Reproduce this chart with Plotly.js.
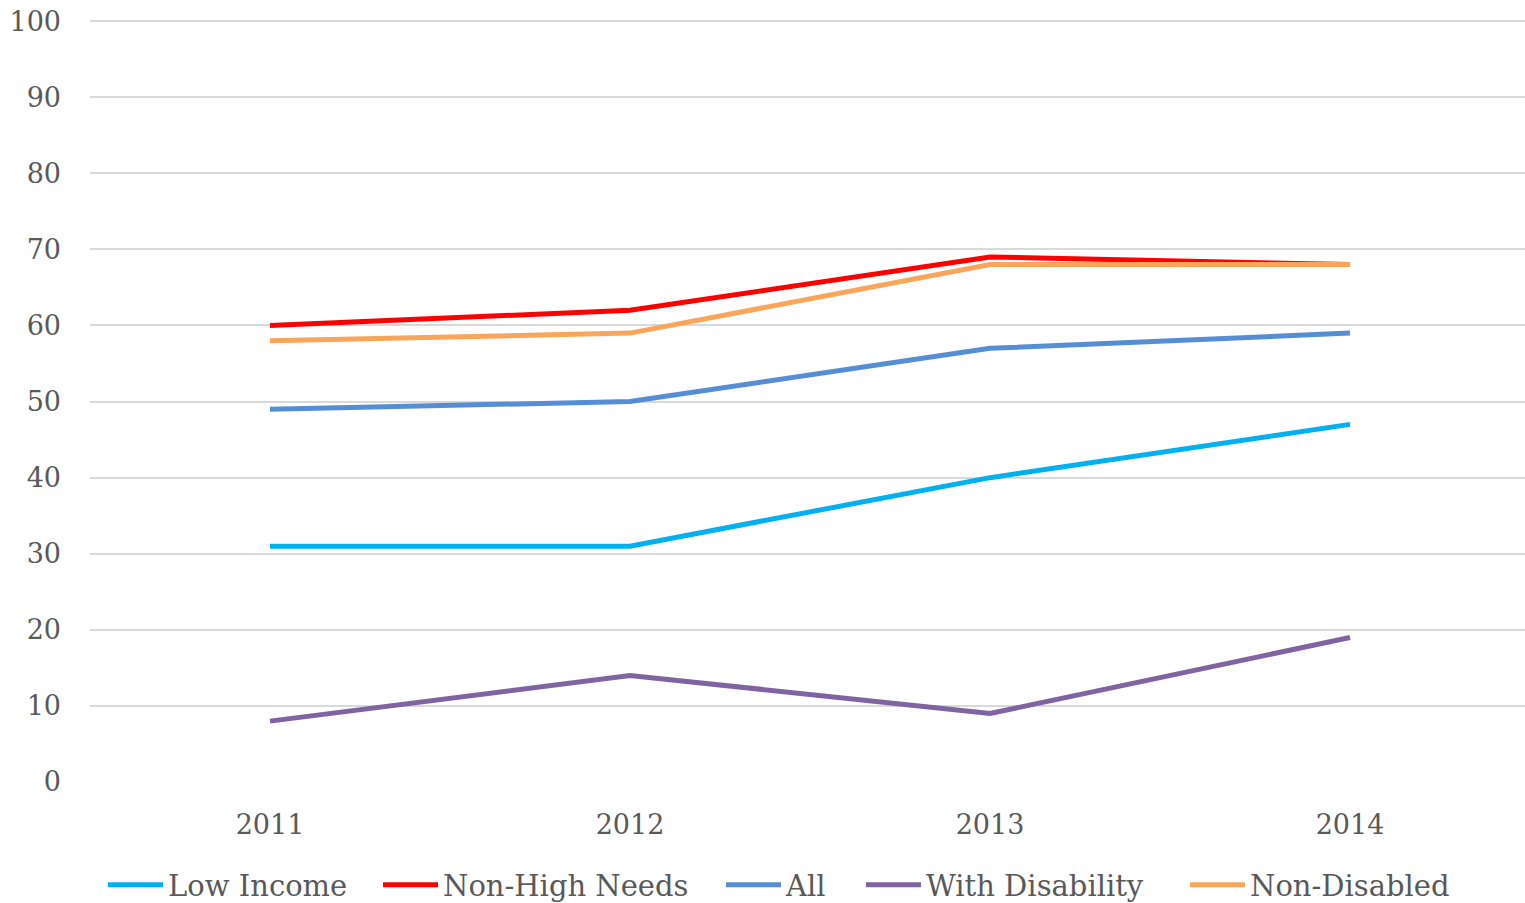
<!DOCTYPE html>
<html>
<head>
<meta charset="utf-8">
<script src="https://cdn.plot.ly/plotly-3.0.1.min.js"></script>
<style>html,body{margin:0;padding:0;background:#fff;}#chart{width:1525px;height:903px;}</style>
</head>
<body>
<div id="chart"></div>
<script>
const years = ["2011", "2012", "2013", "2014"];
const seriesNames = ["Low Income", "Non-High Needs", "All", "With Disability", "Non-Disabled"];
const lowIncome = [31, 31, 40, 47];
const nonHighNeeds = [60, 62, 69, 68];
const allStudents = [49, 50, 57, 59];
const withDisability = [8, 14, 9, 19];
const nonDisabled = [58, 59, 68, 68];
const colors = ["#00B0F0", "#FF0000", "#558ED5", "#8064A2", "#F9A65A"];
const yTicks = [0, 10, 20, 30, 40, 50, 60, 70, 80, 90, 100];

// legend entry left positions (px in the 1525-wide page)
const legendLeft = [103, 378, 721, 861, 1185];

const values = [lowIncome, nonHighNeeds, allStudents, withDisability, nonDisabled];
const legendIds = ["legend", "legend2", "legend3", "legend4", "legend5"];
const traces = values.map((v, i) => ({
  type: "scatter",
  mode: "lines",
  x: years,
  y: v,
  name: seriesNames[i],
  legend: legendIds[i],
  line: {color: colors[i], width: 5},
  hoverinfo: "x+y+name"
}));

const font = {family: "DejaVu Serif, serif", size: 27, color: "#595959"};
const legendFont = {family: "DejaVu Serif, serif", size: 29, color: "#595959"};
const layout = {
  width: 1525,
  height: 903,
  margin: {l: 90, r: 0, t: 20, b: 121},
  paper_bgcolor: "#fff",
  plot_bgcolor: "#fff",
  font: font,
  showlegend: true,
  xaxis: {
    type: "category",
    range: [-0.5, 3.486],
    showgrid: false,
    zeroline: false,
    showline: false,
    ticks: "",
    ticklabelstandoff: 24,
    tickfont: font
  },
  yaxis: {
    range: [0, 100.15],
    tickvals: yTicks,
    ticktext: yTicks.map(String),
    showgrid: true,
    gridcolor: "#D9D9D9",
    gridwidth: 2,
    zeroline: false,
    showline: false,
    ticks: "",
    ticklabelstandoff: 28,
    tickfont: font
  }
};
legendIds.forEach((id, i) => {
  layout[id] = {
    orientation: "h",
    xref: "container", yref: "container",
    x: legendLeft[i] / 1525, xanchor: "left",
    y: 18 / 903, yanchor: "middle",
    font: legendFont,
    itemwidth: 55,
    bgcolor: "rgba(0,0,0,0)"
  };
});

Plotly.newPlot("chart", traces, layout, {displayModeBar: false});
</script>
</body>
</html>
